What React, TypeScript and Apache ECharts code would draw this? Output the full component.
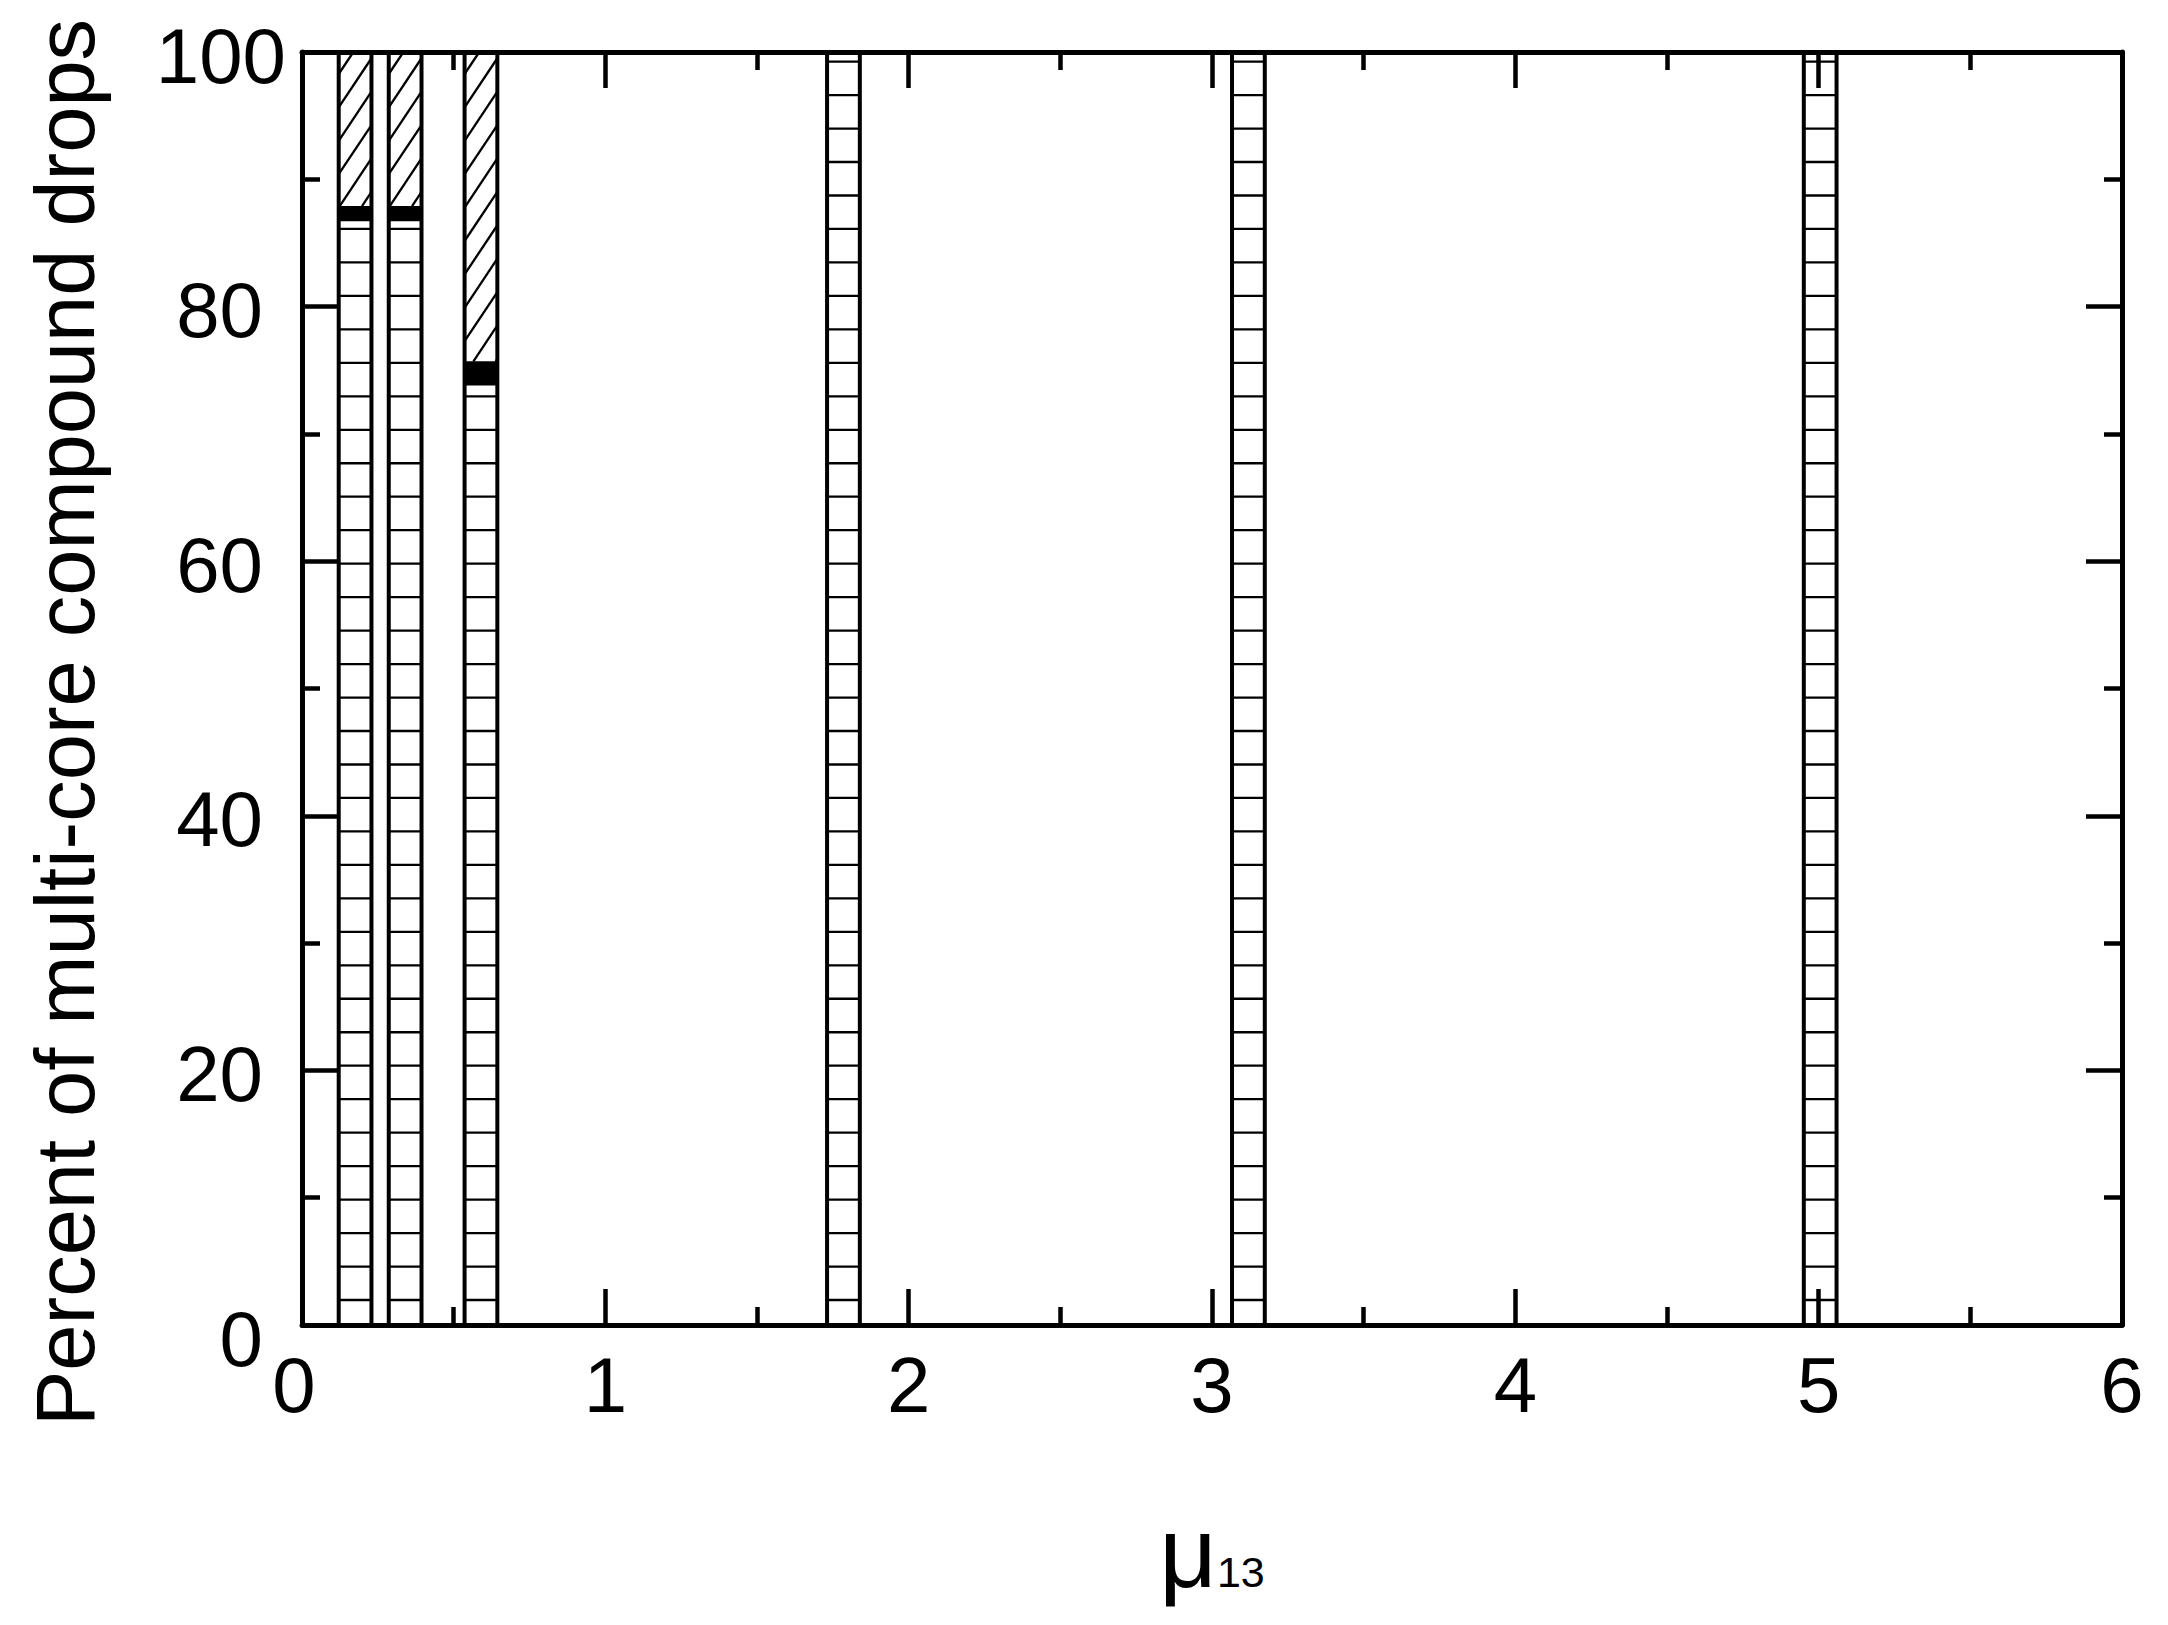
import React, { useEffect, useRef } from "react";
import * as echarts from "echarts";

// ---- data ----
const barPositions = [0.175, 0.34, 0.59, 1.785, 3.12, 5.005];
const horizontalHatchPct = [86.7, 86.7, 73.8, 100, 100, 100];
const solidPct = [1.2, 1.2, 1.9, 0, 0, 0];
const diagonalHatchPct = [12.1, 12.1, 24.3, 0, 0, 0];
const xMin = 0;
const xMax = 6;
const xStep = 1;
const yMin = 0;
const yMax = 100;
const yStep = 20;

// ---- style constants ----
const BAR_WIDTH = 0.108; // in x units
const HATCH_GAP = 33.47; // px
const HATCH_OFFSET = 25; // px from axis bottom
const DIAG_GAP = 33.4;
const DIAG_SLOPE = 1.5;
const DIAG_PHASE = 22;
const FONT = "'Liberation Sans', Arial, Helvetica, sans-serif";
const TICK_FONT = 78;

export default function App() {
  const ref = useRef<HTMLDivElement>(null);

  useEffect(() => {
    if (!ref.current) return;
    const chart = echarts.init(ref.current, undefined, { renderer: "svg" });

    const data = barPositions.map((x, i) => [
      x,
      horizontalHatchPct[i],
      solidPct[i],
      diagonalHatchPct[i],
    ]);

    const renderItem = (params: any, api: any) => {
      const x = api.value(0);
      const h = api.value(1);
      const s = api.value(2);
      const d = api.value(3);
      const w = api.size([BAR_WIDTH, 0])[0];
      const base = api.coord([x, 0]);
      const cx = base[0];
      const yBase = base[1];
      const x0 = cx - w / 2;
      const x1 = cx + w / 2;
      const yH = api.coord([x, h])[1];
      const yS = api.coord([x, h + s])[1];
      const yD = api.coord([x, h + s + d])[1];
      const children: any[] = [];
      children.push({
        type: "rect",
        shape: { x: x0, y: yD, width: w, height: yBase - yD },
        style: { fill: "#ffffff" },
      });
      // horizontal hatch
      for (let y = yBase - HATCH_OFFSET; y > yH; y -= HATCH_GAP) {
        children.push({
          type: "line",
          shape: { x1: x0, y1: y, x2: x1, y2: y },
          style: { stroke: "#000", lineWidth: 2.3 },
        });
      }
      // solid
      if (s > 0) {
        children.push({
          type: "rect",
          shape: { x: x0, y: yS, width: w, height: yH - yS },
          style: { fill: "#000" },
        });
      }
      // diagonal hatch
      if (d > 0) {
        const yT = yD;
        const yB = yS;
        for (let c = yT + DIAG_PHASE; c < yB + DIAG_SLOPE * w; c += DIAG_GAP) {
          const lo = Math.max(0, (c - yB) / DIAG_SLOPE);
          const hi = Math.min(w, (c - yT) / DIAG_SLOPE);
          if (hi > lo) {
            children.push({
              type: "line",
              shape: {
                x1: x0 + lo,
                y1: c - DIAG_SLOPE * lo,
                x2: x0 + hi,
                y2: c - DIAG_SLOPE * hi,
              },
              style: { stroke: "#000", lineWidth: 2.3 },
            });
          }
        }
      }
      children.push({
        type: "rect",
        shape: { x: x0, y: yD, width: w, height: yBase - yD },
        style: { fill: "none", stroke: "#000", lineWidth: 4 },
      });
      return { type: "group", children };
    };

    const tickText = (extra: any) => ({
      fontSize: TICK_FONT,
      fontFamily: FONT,
      color: "#000",
      ...extra,
    });

    const axisCommon = {
      axisLine: { show: true, onZero: false, lineStyle: { color: "#000", width: 5 } },
      axisTick: { show: true, inside: true, length: 36, lineStyle: { color: "#000", width: 4.5 } },
      minorTick: { show: true, splitNumber: 2, length: 18, lineStyle: { color: "#000", width: 4.5 } },
      splitLine: { show: false },
      z: 5,
    };

    chart.setOption({
      animation: false,
      backgroundColor: "#ffffff",
      grid: { left: 302, right: 46, top: 52, bottom: 300, containLabel: false },
      xAxis: [
        {
          type: "value",
          min: xMin,
          max: xMax,
          interval: xStep,
          position: "bottom",
          ...axisCommon,
          axisLabel: {
            show: true,
            margin: 21,
            formatter: (v: number) => (v === 0 ? `{z|${v}}` : `{n|${v}}`),
            rich: {
              n: tickText({}),
              z: tickText({ padding: [0, 16, 0, 0] }),
            },
          },
          name: "{mu|μ}{sub|13}",
          nameLocation: "middle",
          nameGap: 177,
          nameTextStyle: {
            rich: {
              mu: {
                fontSize: 100,
                lineHeight: 100,
                fontFamily: FONT,
                color: "#000",
                verticalAlign: "bottom",
              },
              sub: {
                fontSize: 43,
                lineHeight: 43,
                fontFamily: FONT,
                color: "#000",
                verticalAlign: "bottom",
                padding: [0, 0, 9, 0],
              },
            },
          },
        },
        {
          type: "value",
          min: xMin,
          max: xMax,
          interval: xStep,
          position: "top",
          ...axisCommon,
          axisLabel: { show: false },
        },
      ],
      yAxis: [
        {
          type: "value",
          min: yMin,
          max: yMax,
          interval: yStep,
          position: "left",
          ...axisCommon,
          axisLabel: {
            show: true,
            margin: 16,
            formatter: (v: number) =>
              v === 100 ? `{w|${v}}` : v === 0 ? `{z|${v}}` : `{n|${v}}`,
            rich: {
              n: tickText({ padding: [7, 23, 0, 0] }),
              w: tickText({ padding: [7, 0, 0, 0] }),
              z: tickText({ padding: [28, 23, 0, 0] }),
            },
          },
          name: "Percent of multi-core compound drops",
          nameLocation: "middle",
          nameRotate: 90,
          nameGap: 195,
          nameTextStyle: {
            fontSize: 83,
            fontFamily: FONT,
            color: "#000",
            padding: [0, 68, 0, 0],
          },
        },
        {
          type: "value",
          min: yMin,
          max: yMax,
          interval: yStep,
          position: "right",
          ...axisCommon,
          axisLabel: { show: false },
        },
      ],
      series: [
        {
          type: "custom",
          xAxisIndex: 0,
          yAxisIndex: 0,
          renderItem,
          data,
          z: 2,
          clip: true,
        },
      ],
    });

    return () => {
      chart.dispose();
    };
  }, []);

  return (
    <div
      ref={ref}
      style={{
        position: "absolute",
        left: 0,
        top: 0,
        width: 2168,
        height: 1625,
        background: "#fff",
      }}
    />
  );
}
